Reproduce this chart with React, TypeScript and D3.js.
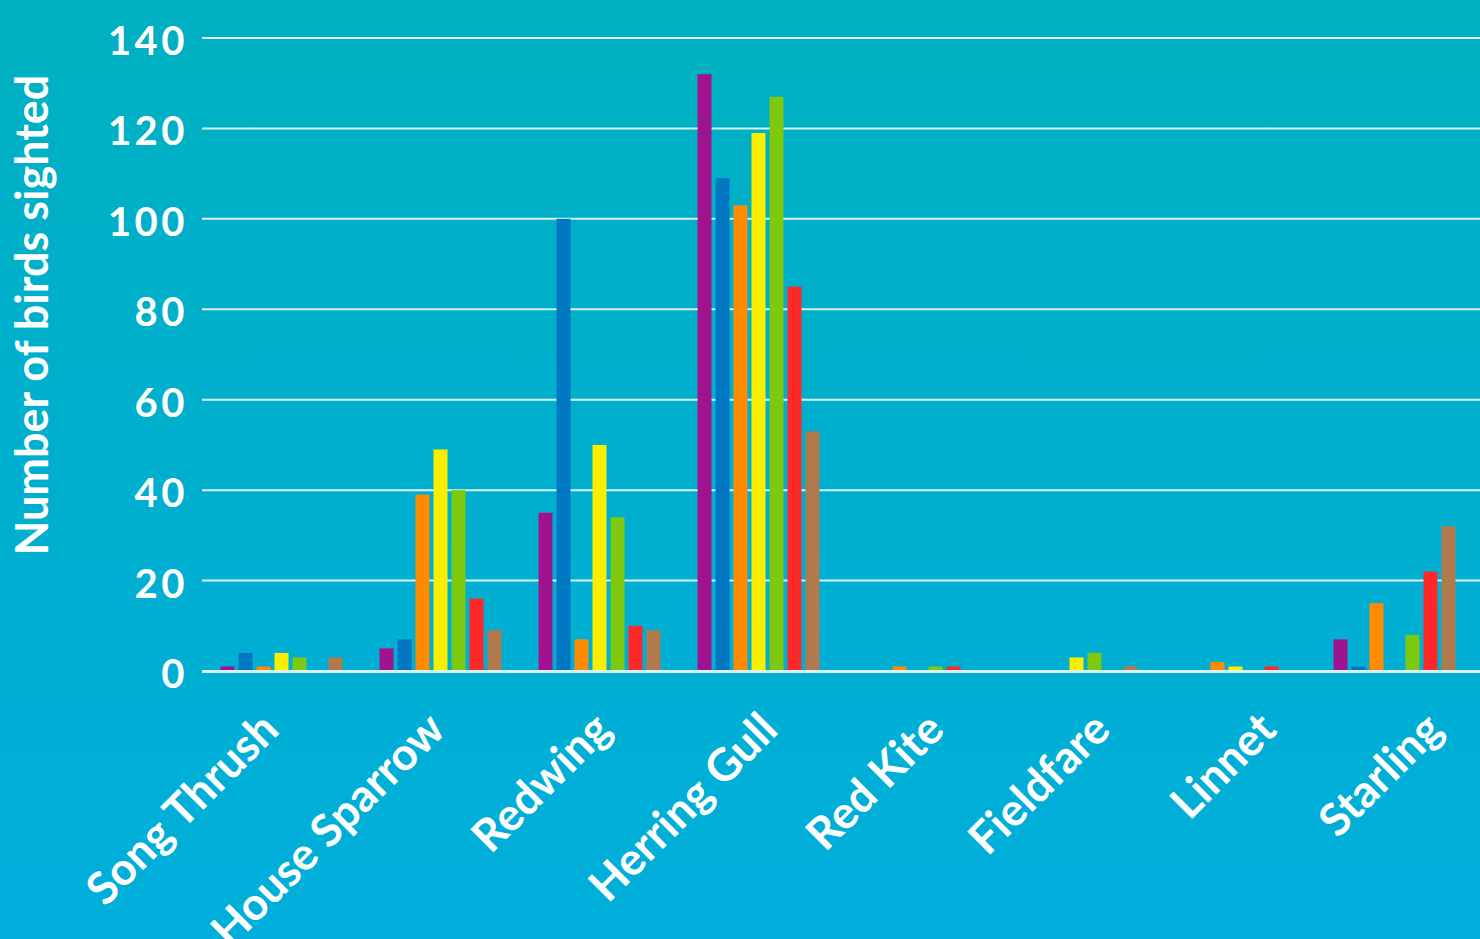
import * as d3 from 'd3';
import { useEffect, useRef } from 'react';

const categories = ['Song Thrush', 'House Sparrow', 'Redwing', 'Herring Gull', 'Red Kite', 'Fieldfare', 'Linnet', 'Starling'];
const seriesKeys = ['s1', 's2', 's3', 's4', 's5', 's6', 's7'];
const seriesColors = ['#a0138f', '#0077c0', '#ff8c00', '#faee00', '#7dc90f', '#ff2828', '#b07a4c'];

// counts per bird, one value per series (same order as seriesKeys)
const songThrush = [1, 4, 1, 4, 3, 0, 3];
const houseSparrow = [5, 7, 39, 49, 40, 16, 9];
const redwing = [35, 100, 7, 50, 34, 10, 9];
const herringGull = [132, 109, 103, 119, 127, 85, 53];
const redKite = [0, 0, 1, 0, 1, 1, 0];
const fieldfare = [0, 0, 0, 3, 4, 0, 1];
const linnet = [0, 0, 2, 1, 0, 1, 0];
const starling = [7, 1, 15, 0, 8, 22, 32];

const yTicks = [0, 20, 40, 60, 80, 100, 120, 140];

const counts = [songThrush, houseSparrow, redwing, herringGull, redKite, fieldfare, linnet, starling];

const BarChart = () => {
  const svgRef = useRef<SVGSVGElement | null>(null);

  useEffect(() => {
    document.body.style.margin = '0';

    const width = 1480;
    const height = 939;
    const margin = { top: 38, right: 6, bottom: 268, left: 202 };
    const font = 'Lato, "Open Sans", sans-serif';

    const x0 = d3
      .scaleBand()
      .domain(categories)
      .range([margin.left, width - margin.right]);

    const x1 = d3
      .scaleBand()
      .domain(seriesKeys)
      .range([0, x0.bandwidth()])
      .paddingInner(4 / 18)
      .paddingOuter(1.03);

    const y = d3
      .scaleLinear()
      .domain([0, 140])
      .range([height - margin.bottom, margin.top]);

    // labels sit a little to the right of the bar groups
    const xLabel = d3
      .scalePoint()
      .domain(categories)
      .range([281, 1445]);

    const svg = d3.select(svgRef.current)
      .attr('width', width)
      .attr('height', height)
      .style('display', 'block');

    svg.selectAll('*').remove();

    // background gradient
    const grad = svg.append('defs')
      .append('linearGradient')
      .attr('id', 'bg')
      .attr('x1', 0).attr('y1', 0)
      .attr('x2', 0).attr('y2', 1);
    grad.append('stop').attr('offset', '0%').attr('stop-color', '#00b0c1');
    grad.append('stop').attr('offset', '100%').attr('stop-color', '#00aedb');

    svg.append('rect')
      .attr('width', width)
      .attr('height', height)
      .attr('fill', 'url(#bg)');

    // gridlines
    svg.append('g')
      .selectAll('line')
      .data(yTicks.filter((t) => t > 0))
      .join('line')
      .attr('x1', margin.left)
      .attr('x2', width)
      .attr('y1', (d) => y(d))
      .attr('y2', (d) => y(d))
      .attr('stroke', '#ffffff')
      .attr('stroke-opacity', 0.85)
      .attr('stroke-width', 2);

    // bars
    svg.append('g')
      .selectAll('g')
      .data(categories)
      .join('g')
      .attr('transform', (d) => `translate(${x0(d)},0)`)
      .selectAll('rect')
      .data((_, i) => counts[i].map((v, j) => ({ key: seriesKeys[j], value: v, color: seriesColors[j] })))
      .join('rect')
      .attr('x', (d) => x1(d.key)!)
      .attr('width', x1.bandwidth())
      .attr('y', (d) => y(d.value))
      .attr('height', (d) => y(0) - y(d.value))
      .attr('fill', (d) => d.color);

    // baseline
    svg.append('line')
      .attr('x1', margin.left)
      .attr('x2', width)
      .attr('y1', y(0) + 0.5)
      .attr('y2', y(0) + 0.5)
      .attr('stroke', '#d8f2f8')
      .attr('stroke-width', 3);

    // y tick labels
    svg.append('g')
      .selectAll('text')
      .data(yTicks)
      .join('text')
      .attr('x', 188)
      .attr('y', (d) => y(d) + 17)
      .attr('text-anchor', 'end')
      .attr('fill', '#ffffff')
      .attr('font-family', font)
      .attr('font-weight', 700)
      .attr('font-size', 40)
      .attr('letter-spacing', 3.5)
      .text((d) => d);

    // y axis title
    svg.append('text')
      .attr('transform', `translate(48,${(77 + 553) / 2}) rotate(-90)`)
      .attr('text-anchor', 'middle')
      .attr('fill', '#ffffff')
      .attr('font-family', font)
      .attr('font-weight', 700)
      .attr('font-size', 45)
      .text('Number of birds sighted');

    // category labels
    svg.append('g')
      .selectAll('text')
      .data(categories)
      .join('text')
      .attr('transform', (d) => `translate(${xLabel(d)},732) rotate(-45)`)
      .attr('text-anchor', 'end')
      .attr('fill', '#ffffff')
      .attr('font-family', font)
      .attr('font-weight', 700)
      .attr('font-size', 45)
      .text((d) => d);
  }, []);

  return <svg ref={svgRef}></svg>;
};

export default function App() {
  return <BarChart />;
}
